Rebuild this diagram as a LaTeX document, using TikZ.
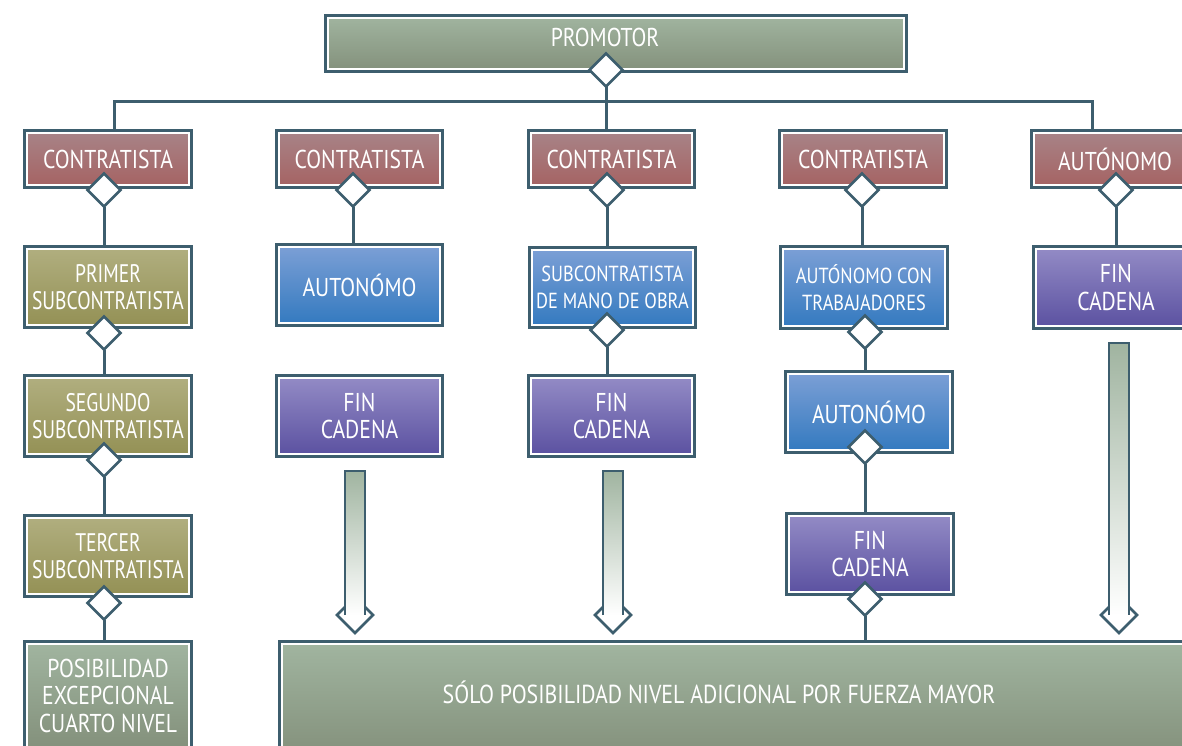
\documentclass[tikz,border=0pt]{standalone}
\usepackage{fontspec}
\setmainfont{PT Sans}[FakeStretch=0.84]
\newfontfamily\narrowfont{PT Sans}[FakeStretch=0.77]
\usetikzlibrary{shapes.geometric}
\definecolor{bd}{RGB}{61,94,110}
\definecolor{grT}{RGB}{161,181,160}
\definecolor{grB}{RGB}{131,144,123}
\definecolor{rdT}{RGB}{168,132,136}
\definecolor{rdB}{RGB}{165,98,98}
\definecolor{olT}{RGB}{177,175,128}
\definecolor{olB}{RGB}{147,144,84}
\definecolor{blT}{RGB}{125,160,214}
\definecolor{blB}{RGB}{50,121,191}
\definecolor{puT}{RGB}{148,140,198}
\definecolor{puB}{RGB}{90,80,160}
\definecolor{arT}{RGB}{160,180,160}
\tikzset{
  bx/.style={rectangle, draw=bd, line width=3pt, inner sep=0pt, outer sep=0pt,
    text=white, align=center, font=\fontsize{25.8}{27.5}\selectfont},
  sz/.style 2 args={minimum width=#1, minimum height=#2},
  gr/.style={top color=grT, bottom color=grB},
  rd/.style={top color=rdT, bottom color=rdB},
  ol/.style={top color=olT, bottom color=olB, font=\narrowfont\fontsize{25.4}{27.5}\selectfont},
  bl/.style={top color=blT, bottom color=blB},
  pu/.style={top color=puT, bottom color=puB},
  small/.style={font=\fontsize{21.8}{27.5}\selectfont},
  dm/.style={diamond, draw=bd, line width=2.7pt, fill=white, minimum width=33pt,
    minimum height=33pt, inner sep=0pt, outer sep=0pt},
  ln/.style={draw=bd, line width=3pt},
  txt/.style={text=white, align=center, inner sep=0pt, font=\fontsize{25.8}{27.5}\selectfont}
}
\newcommand\hollowarrow[2]{%
  \draw[bd, line width=2.6pt, fill=white] (#1-18,615) -- (#1,633) -- (#1+18,615) -- (#1,597) -- cycle;
  \shade[top color=arT, bottom color=white] (#1-10,#2) rectangle (#1+10,615);
  \draw[bd, line width=2.6pt] (#1-10,615) -- (#1-10,#2) -- (#1+10,#2) -- (#1+10,615);
}
\begin{document}
\begin{tikzpicture}[x=1pt,y=-1pt]
\path[use as bounding box] (0,0) rectangle (1182,746);
\clip (0,0) rectangle (1182,746);
% boxes
\node[bx,gr,sz={581}{56}] (p) at (616,43.5) {};
\node[txt] (pt) at (605,37) {PROMOTOR};
\node[bx,rd,sz={167}{57}] (c1) at (108,159) {CONTRATISTA};
\node[bx,rd,sz={166}{57}] (c2) at (359.5,159) {CONTRATISTA};
\node[bx,rd,sz={166}{57}] (c3) at (611.5,159) {CONTRATISTA};
\node[bx,rd,sz={167}{57}] (c4) at (863,159) {CONTRATISTA};
\node[bx,rd,sz={167}{57}] (c5) at (1115,159) {AUTÓNOMO};
\node[bx,ol,sz={167}{81}] (r21) at (108,287) {PRIMER\\SUBCONTRATISTA};
\node[bx,bl,sz={166}{81}] (r22) at (359.5,285) {AUTONÓMO};
\node[bx,bl,small,sz={166}{80}] (r23) at (612.5,287.5) {SUBCONTRATISTA\\DE MANO DE OBRA};
\node[bx,bl,small,sz={167}{82}] (r24) at (864,287.5) {AUTÓNOMO CON\\TRABAJADORES};
\node[bx,pu,sz={165}{82}] (r25) at (1116,287.5) {FIN\\CADENA};
\node[bx,ol,sz={167}{81}] (r31) at (108,416) {SEGUNDO\\SUBCONTRATISTA};
\node[bx,pu,sz={166}{81}] (r32) at (359.5,416) {FIN\\CADENA};
\node[bx,pu,sz={166}{81}] (r33) at (611.5,416) {FIN\\CADENA};
\node[bx,bl,sz={167}{81}] (r34) at (869,412) {AUTONÓMO};
\node[bx,ol,sz={167}{81}] (r41) at (108,556) {TERCER\\SUBCONTRATISTA};
\node[bx,pu,sz={167}{81}] (r44) at (870,554) {FIN\\CADENA};
\node[bx,gr,sz={167}{108}] (r51) at (108,695.5) {POSIBILIDAD\\EXCEPCIONAL\\CUARTO NIVEL};
\node[bx,gr,sz={919}{117}] (big) at (739,700) {};
\node[txt,font=\fontsize{26}{28}\selectfont] (bigt) at (719,692) {SÓLO POSIBILIDAD NIVEL ADICIONAL POR FUERZA MAYOR};
% inner white frames
\foreach \n in {p,c1,c2,c3,c4,c5,r21,r22,r23,r24,r25,r31,r32,r33,r34,r41,r44,r51,big}
  \draw[white, line width=1.5pt] ([shift={(2.4,2.4)}]\n.north west) rectangle ([shift={(-2.4,-2.4)}]\n.south east);
% diamonds
\node[dm] (pd) at (606,70) {};
\node[dm] (d1) at (104,190) {};
\node[dm] (d2) at (353,190) {};
\node[dm] (d3) at (607,190) {};
\node[dm] (d4) at (862,190) {};
\node[dm] (d5) at (1116,190) {};
\node[dm] (e1) at (104,333) {};
\node[dm] (e3) at (607,330) {};
\node[dm] (e4) at (865,332) {};
\node[dm] (f1) at (104,460) {};
\node[dm] (f4) at (865,447) {};
\node[dm] (g1) at (104,603) {};
\node[dm] (g4) at (865,599) {};
% connectors
\coordinate (bl) at (114,102);
\coordinate (br) at (1092,102);
\draw[ln] (pd.south) -- (pd.south |- c3.north);
\draw[ln] (c1.north -| bl) -- (bl) -- (br) -- (c5.north -| br);
\draw[ln] (d1.south) -- (d1.south |- r21.north);
\draw[ln] (d2.south) -- (d2.south |- r22.north);
\draw[ln] (d3.south) -- (d3.south |- r23.north);
\draw[ln] (d4.south) -- (d4.south |- r24.north);
\draw[ln] (d5.south) -- (d5.south |- r25.north);
\draw[ln] (e1.south) -- (e1.south |- r31.north);
\draw[ln] (e3.south) -- (e3.south |- r33.north);
\draw[ln] (e4.south) -- (e4.south |- r34.north);
\draw[ln] (f1.south) -- (f1.south |- r41.north);
\draw[ln] (f4.south) -- (f4.south |- r44.north);
\draw[ln] (g1.south) -- (g1.south |- r51.north);
\draw[ln] (g4.south) -- (g4.south |- big.north);
% hollow arrows
\hollowarrow{355}{471}
\hollowarrow{613}{471}
\hollowarrow{1119}{343}
\end{tikzpicture}
\end{document}
